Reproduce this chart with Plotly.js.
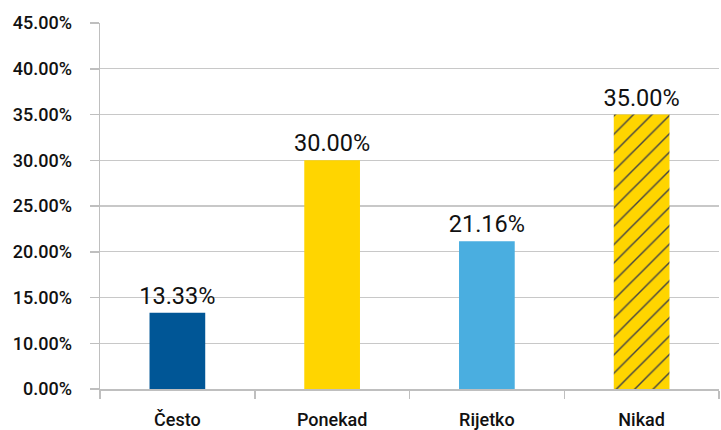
<!DOCTYPE html>
<html>
<head>
<meta charset="utf-8">
<script src="https://cdn.plot.ly/plotly-3.0.1.min.js"></script>
<style>html,body{margin:0;padding:0;background:#fff;}#chart{width:721px;height:430px;}</style>
</head>
<body>
<div id="chart"></div>
<script>
const categories = ["Često", "Ponekad", "Rijetko", "Nikad"];
const values = [13.33, 30.00, 21.16, 35.00];
const dataLabels = ["13.33%", "30.00%", "21.16%", "35.00%"];
const tickValues = [5, 10, 15, 20, 25, 30, 35, 40, 45];
const tickLabels = ["0.00%", "10.00%", "15.00%", "20.00%", "25.00%", "30.00%", "35.00%", "40.00%", "45.00%"];
const barColors = ["#005696", "#FFD500", "#4AAEE0", "#FFD500"];
const patternShapes = ["", "", "", "/"];

const trace = {
  type: "bar",
  x: categories,
  y: values,
  text: dataLabels,
  textposition: "outside",
  constraintext: "none",
  cliponaxis: false,
  textfont: {family: "Roboto", size: 23.5, color: "#111"},
  width: 0.36,
  marker: {
    color: barColors,
    line: {width: 0},
    pattern: {
      shape: patternShapes,
      fillmode: "overlay",
      fgcolor: "#0A5CC2",
      fgopacity: 1,
      size: 13,
      solidity: 0.11
    }
  },
  hoverinfo: "skip"
};

const layout = {
  width: 721, height: 430,
  margin: {l: 100, r: 2, t: 23, b: 41},
  paper_bgcolor: "#fff", plot_bgcolor: "#fff",
  showlegend: false,
  xaxis: {
    type: "category",
    tickson: "boundaries",
    ticks: "outside", ticklen: 8, tickcolor: "#BFBFBF", tickwidth: 1.5,
    showline: true, linecolor: "#BFBFBF", linewidth: 1.5,
    showgrid: false,
    tickfont: {family: "Roboto", size: 18, color: "#111", weight: 500},
    ticklabelstandoff: 14
  },
  yaxis: {
    range: [5, 45],
    tickvals: tickValues,
    ticktext: tickLabels,
    ticks: "outside", ticklen: 9, tickcolor: "#BFBFBF", tickwidth: 1.5,
    showline: true, linecolor: "#BFBFBF", linewidth: 1.5,
    showgrid: true, gridcolor: "#C8C8C8", gridwidth: 1.2,
    zeroline: false,
    tickfont: {family: "Roboto", size: 18, color: "#111", weight: 500},
    ticklabelstandoff: 14
  }
};

Plotly.newPlot("chart", [trace], layout, {displayModeBar: false, staticPlot: true});
</script>
</body>
</html>
